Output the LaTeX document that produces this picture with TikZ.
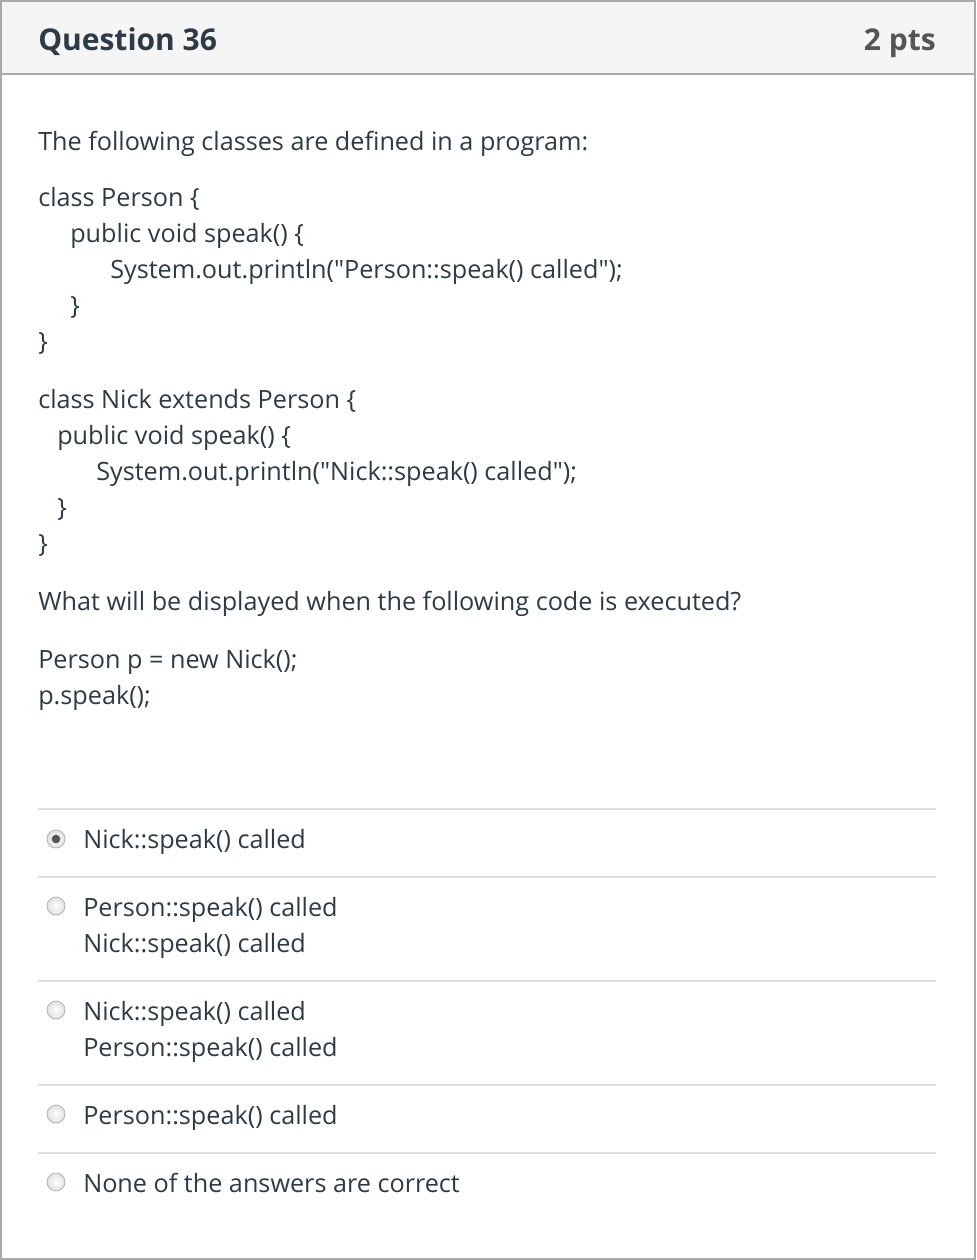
\documentclass[tikz,border=0pt]{standalone}
\usepackage{fontspec}
\setmainfont{Open Sans}
\usetikzlibrary{positioning}

\definecolor{ink}{HTML}{2D3B45}
\definecolor{pts}{HTML}{555555}
\definecolor{frame}{HTML}{AAAAAA}
\definecolor{head}{HTML}{F5F5F5}
\definecolor{rule}{HTML}{DDDDDD}

\newcommand{\qq}{\textquotedbl}

\begin{document}
\begin{tikzpicture}[
    x=0.75pt, y=-0.75pt,
    font=\fontsize{18.9}{22.7}\selectfont,
    txt/.style={anchor=base west,inner sep=0pt,text=ink},
    title/.style={anchor=base west,inner sep=0pt,text=ink,font=\fontsize{22.5}{27}\selectfont\bfseries},
    sep/.style={draw=rule,line width=1.5pt},
    radio/.style={circle,draw=frame!90,line width=0.6pt,shading=radial,inner color=white,outer color=black!12,minimum size=13.5pt,inner sep=0pt},
    chosen/.style={circle,fill=pts,minimum size=6.5pt,inner sep=0pt}
]
\useasboundingbox (0,0) rectangle (976,1260);

% === Frame and header ===
\fill[head] (0,0) rectangle (976,74);
\draw[frame,line width=1.5pt] (0,74) -- (976,74);
\draw[frame,line width=1.5pt] (1,1) rectangle (975,1259);

\node[title] (Q) at (38,50) {Question 36};
\node[title,anchor=base east,text=pts] (P) at (936,50) {2 pts};

% === Question text ===
\node[txt] (intro) at (38,150) {The following classes are defined in a program:};

% === class Person ===
\node[txt] (C1) at (38,206) {class Person \{};
\node[txt] (C2) at (70,242) {public void speak() \{};
\node[txt] (C3) at (110,278) {System.out.println(\qq Person::speak() called\qq);};
\node[txt] (C4) at (70,314) {\}};
\node[txt] (C5) at (38,350) {\}};

% === class Nick ===
\node[txt] (D1) at (38,408) {class Nick extends Person \{};
\node[txt] (D2) at (57,444) {public void speak() \{};
\node[txt] (D3) at (96,480) {System.out.println(\qq Nick::speak() called\qq);};
\node[txt] (D4) at (57,516) {\}};
\node[txt] (D5) at (38,552) {\}};

\node[txt] (ask) at (38,610) {What will be displayed when the following code is executed?};
\node[txt] (E1) at (38,668) {Person p = new Nick();};
\node[txt] (E2) at (38,704) {p.speak();};

% === Answers ===
\foreach \y in {809,877,981,1085,1153}
    \draw[sep] (38,\y) -- (936,\y);

\node[radio] (R1) at (56,839) {};
\node[chosen] at (R1) {};
\node[radio] (R2) at (56,906) {};
\node[radio] (R3) at (56,1010) {};
\node[radio] (R4) at (56,1114) {};
\node[radio] (R5) at (56,1182) {};

\node[txt] (A1) at (83,848) {Nick::speak() called};
\node[txt] (A2) at (83,916) {Person::speak() called};
\node[txt] (A2b) at (83,952) {Nick::speak() called};
\node[txt] (A3) at (83,1020) {Nick::speak() called};
\node[txt] (A3b) at (83,1056) {Person::speak() called};
\node[txt] (A4) at (83,1124) {Person::speak() called};
\node[txt] (A5) at (83,1192) {None of the answers are correct};

\end{tikzpicture}
\end{document}
